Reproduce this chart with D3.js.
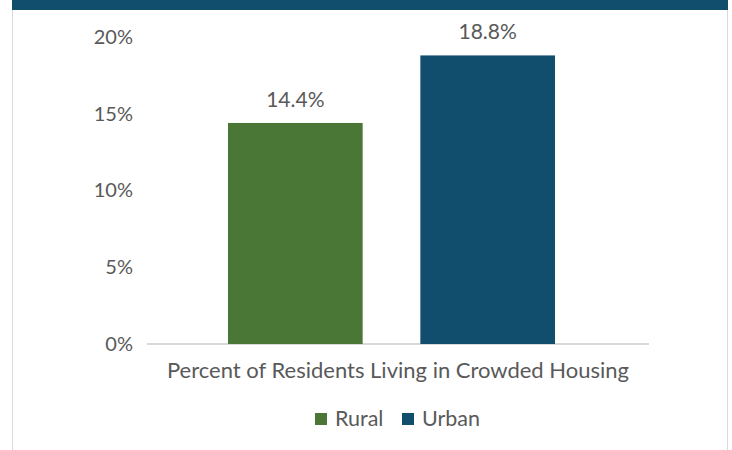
<!DOCTYPE html>
<html>
<head>
<meta charset="utf-8">
<script src="https://cdn.jsdelivr.net/npm/d3@7"></script>
<style>
  body { margin: 0; background: #fff; }
  text { font-family: Lato, "Open Sans", sans-serif; fill: #595959; }
</style>
</head>
<body>
<div id="chart"></div>
<script>
var category = "Percent of Residents Living in Crowded Housing";
var series = ["Rural", "Urban"];
var values = [14.4, 18.8];
var colors = ["#4a7636", "#114e6e"];
var yTicks = [0, 5, 10, 15, 20];

var width = 732,
    height = 450,
    margin = { top: 37, right: 83, bottom: 106, left: 147 };

var svg = d3.select("#chart").append("svg")
    .attr("width", width)
    .attr("height", height);

// frame: dark header band and thin side borders
svg.append("rect")
    .attr("x", 12).attr("y", 0)
    .attr("width", 716).attr("height", 10)
    .attr("fill", "#114e6e");
svg.append("line")
    .attr("x1", 12.5).attr("x2", 12.5).attr("y1", 10).attr("y2", height)
    .attr("stroke", "#d9d9d9");
svg.append("line")
    .attr("x1", 727.5).attr("x2", 727.5).attr("y1", 10).attr("y2", height)
    .attr("stroke", "#d9d9d9");

var innerW = width - margin.left - margin.right,
    innerH = height - margin.top - margin.bottom;

var g = svg.append("g")
    .attr("transform", "translate(" + margin.left + "," + margin.top + ")");

var y = d3.scaleLinear().domain([0, 20]).range([innerH, 0]);

var x0 = d3.scaleBand().domain([category]).range([0, innerW]);
var x1 = d3.scaleBand().domain(series)
    .range([81, 408])
    .paddingInner(0.3);

var yAxis = g.append("g")
    .call(d3.axisLeft(y).tickValues(yTicks).tickSize(0).tickPadding(14)
        .tickFormat(function (d) { return d + "%"; }));
yAxis.select(".domain").remove();
yAxis.selectAll("text").style("font-size", "20px").attr("fill", "#595959");

// baseline
g.append("line")
    .attr("x1", 0).attr("x2", innerW)
    .attr("y1", y(0)).attr("y2", y(0))
    .attr("stroke", "#d9d9d9").attr("stroke-width", 2);

var data = series.map(function (s, i) { return { name: s, value: values[i], color: colors[i] }; });

g.selectAll("rect.bar")
    .data(data)
    .enter().append("rect")
    .attr("class", "bar")
    .attr("x", function (d) { return x1(d.name); })
    .attr("width", x1.bandwidth())
    .attr("y", function (d) { return y(d.value); })
    .attr("height", function (d) { return y(0) - y(d.value); })
    .attr("fill", function (d) { return d.color; });

g.selectAll("text.lbl")
    .data(data)
    .enter().append("text")
    .attr("class", "lbl")
    .attr("x", function (d) { return x1(d.name) + x1.bandwidth() / 2; })
    .attr("y", function (d) { return y(d.value) - 16; })
    .attr("text-anchor", "middle")
    .style("font-size", "21px")
    .text(function (d) { return d.value.toFixed(1) + "%"; });

g.append("text")
    .attr("x", x0(category) + x0.bandwidth() / 2)
    .attr("y", innerH + 34)
    .attr("text-anchor", "middle")
    .style("font-size", "22px")
    .text(category);

// legend
var legend = svg.append("g").attr("transform", "translate(315,413)");
var lx = [0, 87];
series.forEach(function (s, i) {
    var item = legend.append("g").attr("transform", "translate(" + lx[i] + ",0)");
    item.append("rect").attr("width", 12).attr("height", 12).attr("fill", colors[i]);
    item.append("text").attr("x", 20).attr("y", 13).style("font-size", "21.5px").text(s);
});
</script>
</body>
</html>
